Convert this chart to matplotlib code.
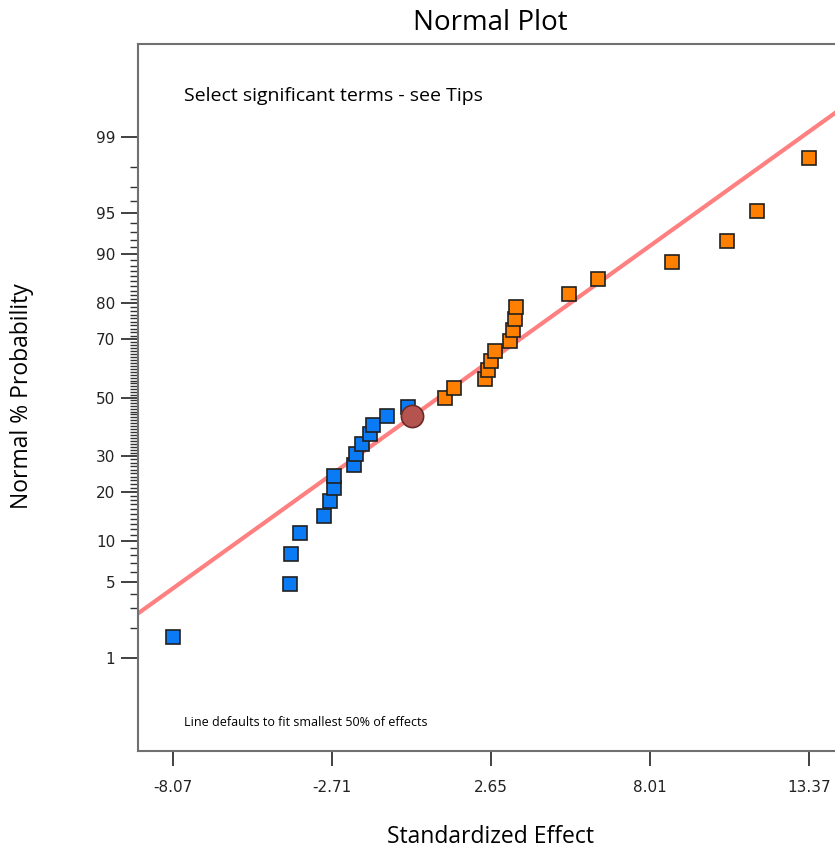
import numpy as np
import matplotlib
matplotlib.use("Agg")
import matplotlib.pyplot as plt
from statistics import NormalDist

# ---- data ----
neg_effects = [-8.07, -4.11, -4.09, -3.78, -2.98, -2.79, -2.64, -2.64, -1.96,
               -1.89, -1.70, -1.43, -1.34, -0.85, -0.16]
pos_effects = [1.10, 1.41, 2.45, 2.56, 2.64, 2.79, 3.30, 3.40, 3.47, 3.50,
               5.28, 6.26, 8.75, 10.60, 11.61, 13.37]
line_mean = 0.89      # fitted line (smallest 50% of effects)
line_sd = 5.26
circle_effect = 0.0
y_tick_labels = [1, 5, 10, 20, 30, 50, 70, 80, 90, 95, 99]

nd = NormalDist()
_inv = np.vectorize(lambda p: nd.inv_cdf(min(max(p / 100.0, 1e-12), 1 - 1e-12)))
_cdf = np.vectorize(lambda z: nd.cdf(z) * 100.0)

def fwd(p):
    return _inv(np.asarray(p, dtype=float))

def inv(z):
    return _cdf(np.asarray(z, dtype=float))

all_eff = np.array(sorted(neg_effects + pos_effects))
n = len(all_eff)
ranks = np.arange(1, n + 1)
pct = (ranks - 0.5) / n * 100.0
neg_sorted = np.sort(neg_effects)
pos_sorted = np.sort(pos_effects)
neg_pct = pct[:len(neg_sorted)]
pos_pct = pct[len(neg_sorted):]

plt.rcParams['font.family'] = ['Open Sans', 'DejaVu Sans']

fig = plt.figure(figsize=(8.35, 8.51), dpi=100)
ax = fig.add_axes([0.1653, 0.1175, 0.8347, 0.8308])
ax.set_yscale('function', functions=(fwd, inv))

zmax = 3.156
ax.set_ylim(inv(-zmax), inv(zmax))
xmin, xmax = min(all_eff), max(all_eff)
step = (xmax - xmin) / 4
ax.set_xlim(xmin - 1.18, xmax + 0.88)

# fitted line
xl = np.linspace(xmin - 1.5, xmax + 1.5, 300)
ax.plot(xl, inv((xl - line_mean) / line_sd), color='#FF8080', lw=3, zorder=2,
        solid_capstyle='butt')

ax.plot(neg_sorted, neg_pct, 's', ms=10, mfc='#0A7BF5', mec='#202020', mew=1.2,
        zorder=3, linestyle='none')
ax.plot(pos_sorted, pos_pct, 's', ms=10, mfc='#FF8000', mec='#202020', mew=1.2,
        zorder=3, linestyle='none')
ax.plot([circle_effect], inv([(circle_effect - line_mean) / line_sd]), 'o', ms=16,
        mfc='#B5544F', mec='#6A2A28', mew=1.2, zorder=4)

# ticks
xt = [xmin + k * step for k in range(5)]
ax.set_xticks(xt)
ax.set_xticklabels([f"{v:.2f}" for v in xt], fontsize=11, family='DejaVu Sans',
                   color='#222222')
ax.set_yticks(y_tick_labels)
ax.set_yticklabels([str(v) for v in y_tick_labels], fontsize=11, family='DejaVu Sans',
                   color='#222222')
ax.set_yticks([v for v in range(1, 100) if v not in y_tick_labels], minor=True)
ax.xaxis.set_minor_locator(matplotlib.ticker.NullLocator())
ax.tick_params(axis='y', which='major', length=12.5, width=1.3, color='#333333', pad=4)
ax.tick_params(axis='y', which='minor', length=6, width=1.0, color='#333333')
ax.tick_params(axis='x', which='major', length=11, width=1.3, color='#333333', pad=10)

for s in ['left', 'top', 'bottom']:
    ax.spines[s].set_color('#707070')
    ax.spines[s].set_linewidth(1.5)
ax.spines['right'].set_visible(False)

fig.text(0.587, 0.0165, 'Standardized Effect', fontsize=16.5, ha='center', va='center')
fig.text(0.0263, 0.5347, 'Normal % Probability', fontsize=16.5, ha='center', va='center',
         rotation=90)
fig.text(0.587, 0.973, 'Normal Plot', fontsize=20, ha='center', va='center')

ax.text(0.066, 0.927, 'Select significant terms - see Tips', transform=ax.transAxes,
        fontsize=14, ha='left', va='center')
ax.text(0.066, 0.041, 'Line defaults to fit smallest 50% of effects', transform=ax.transAxes,
        fontsize=9, ha='left', va='center')

fig.savefig('out.png', dpi=100)
